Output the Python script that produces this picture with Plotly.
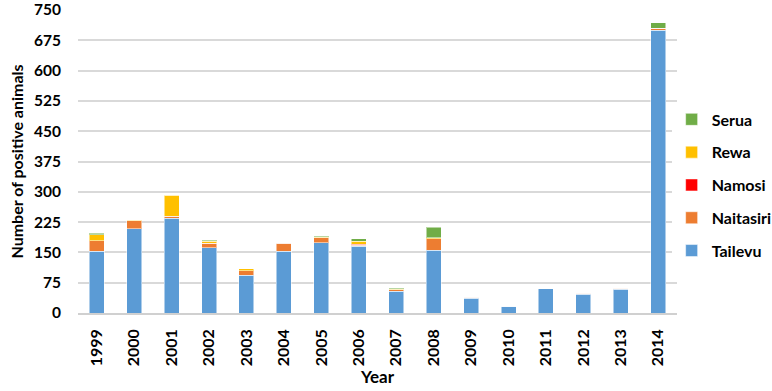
import plotly.graph_objects as go

years = [str(y) for y in range(1999, 2015)]
tailevu =   [153, 208, 235, 161, 94, 153, 174, 165, 54, 155, 37, 17, 60, 46, 59, 700]
naitasiri = [26, 20, 5, 12, 10, 20, 12, 3, 3, 29, 2, 0, 0, 3, 2, 5]
namosi =    [0, 0, 0, 0, 0, 0, 0, 2, 0, 0, 0, 0, 0, 0, 0, 0]
rewa =      [15, 2, 52, 4, 6, 1, 2, 8, 2, 2, 0, 0, 0, 0, 0, 0]
serua =     [3, 0, 0, 3, 0, 0, 2, 6, 2, 26, 0, 0, 0, 0, 0, 13]
yticks = [0, 75, 150, 225, 300, 375, 450, 525, 600, 675, 750]

series = [
    ("Tailevu", tailevu, "#5B9BD5"),
    ("Naitasiri", naitasiri, "#ED7D31"),
    ("Namosi", namosi, "#FF0000"),
    ("Rewa", rewa, "#FFC000"),
    ("Serua", serua, "#70AD47"),
]

FAM = "Lato"
fig = go.Figure()
n = len(series)
for i, (name, vals, col) in enumerate(series):
    fig.add_trace(go.Bar(
        x=years, y=vals, name=name, legendgroup=name, legendrank=n - i,
        marker=dict(color=col, line=dict(color="rgba(255,255,255,0.5)", width=1)),
    ))

fig.update_layout(
    barmode="stack",
    bargap=0.6,
    width=772, height=391,
    margin=dict(l=78, r=95, t=10, b=78, autoexpand=False),
    plot_bgcolor="white", paper_bgcolor="white",
    font=dict(family=FAM, size=15, color="#000000", weight="bold"),
    legend=dict(traceorder="grouped", xref="container", yref="container",
                x=0.870, y=0.527, xanchor="left", yanchor="middle",
                tracegroupgap=9,
                font=dict(family=FAM, size=16, color="#000", weight="bold"),
                itemwidth=30),
    xaxis=dict(tickangle=-90, showgrid=False, showline=True, linecolor="#d0d0d0",
               linewidth=1.5, ticks="", automargin=False, ticklabelstandoff=8,
               tickfont=dict(family=FAM, size=16, color="#000", weight="bold"),
               title=dict(text="Year", font=dict(family=FAM, size=17, weight="bold"),
                          standoff=2)),
    yaxis=dict(range=[0, 750], tickvals=yticks, showgrid=True, gridcolor="#d9d9d9",
               gridwidth=1.5, zeroline=False, ticks="", automargin=False,
               ticklabeloverflow="allow", ticklabelstandoff=16,
               tickfont=dict(family=FAM, size=15.5, color="#000", weight="bold"),
               title=dict(text="Number of positive animals",
                          font=dict(family=FAM, size=16, weight="bold"), standoff=6)),
)
fig.write_html("out.html", config={"displayModeBar": False},
               post_script="document.body.style.margin='0';")
